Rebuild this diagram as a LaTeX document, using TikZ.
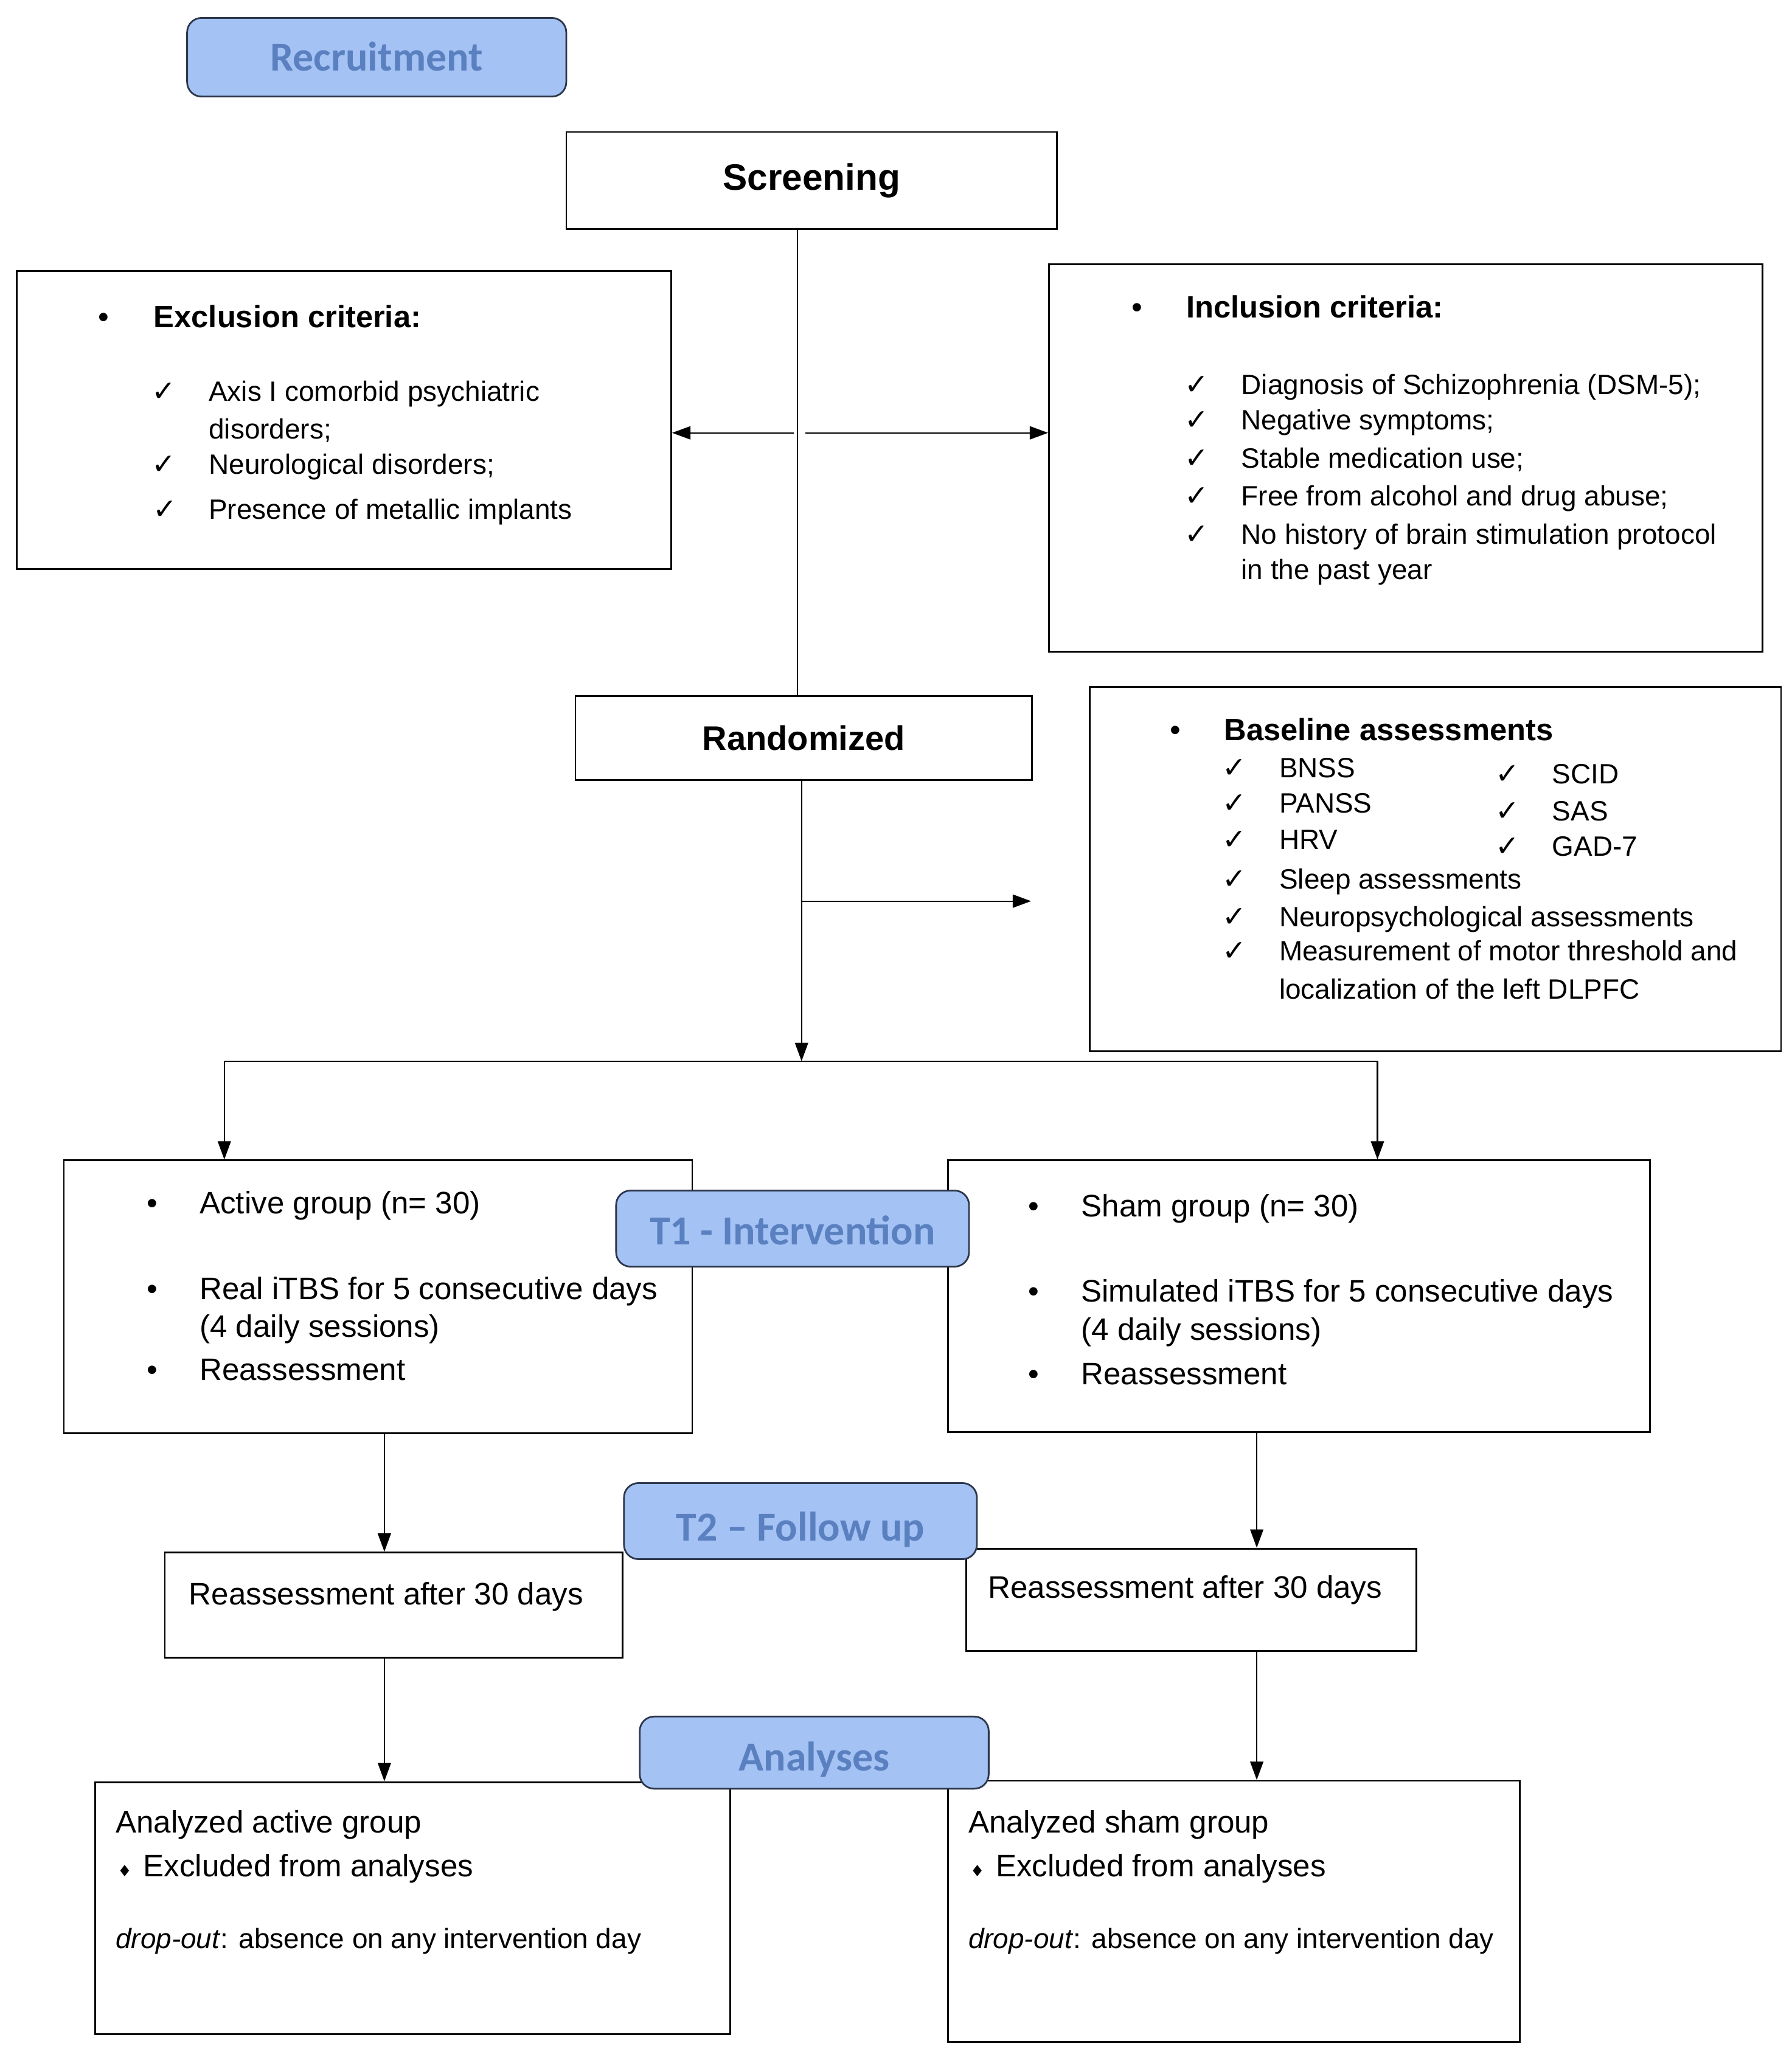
\documentclass[tikz,border=0pt]{standalone}
\usepackage{fontspec}
\setmainfont{Liberation Sans}
\newfontfamily\carlito{Carlito}
\newfontfamily\dvsans{DejaVu Sans}
\usetikzlibrary{arrows.meta}
\definecolor{lblfill}{RGB}{164,194,244}
\definecolor{lbltext}{RGB}{90,128,192}
\definecolor{lbldraw}{RGB}{45,55,75}
\tikzset{
  box/.style={draw=black, line width=1.3pt, inner sep=0pt, anchor=north west, fill=white},
  lbl/.style={draw=lbldraw, fill=lblfill, rounded corners=11pt, line width=1.3pt, inner sep=0pt,
     anchor=north west, text=lbltext, text height=20.3pt, text depth=0pt,
     font=\carlito\bfseries\fontsize{31.5}{36}\selectfont},
  bodytxt/.style={inner sep=0pt, anchor=base west, font=\fontsize{23.7}{28}\selectfont},
  smalltxt/.style={inner sep=0pt, anchor=base west, font=\fontsize{21.3}{25}\selectfont},
  headtxt/.style={inner sep=0pt, anchor=base west, font=\bfseries\fontsize{23.5}{28}\selectfont},
  bul/.style={inner sep=0pt, anchor=base, font=\fontsize{23.5}{28}\selectfont},
  chk/.style={inner sep=0pt, anchor=base, font=\dvsans\fontsize{22}{24}\selectfont},
  dia/.style={inner sep=0pt, anchor=base, font=\dvsans\fontsize{12}{14}\selectfont},
  conn/.style={line width=1pt},
  arr/.style={line width=1pt, -{Triangle[length=14pt,width=10pt]}},
}
\begin{document}
\begin{tikzpicture}[x=1pt,y=-1pt]
\useasboundingbox[fill=white] (0,0) rectangle (1366,1570.5);

% ---------- boxes ----------
\node[box, minimum width=374pt, minimum height=74pt, font=\bfseries\fontsize{28}{32}\selectfont] (scr) at (431,100) {Screening};
\node[box, minimum width=499pt, minimum height=227pt] (excl) at (12,206) {};
\node[box, minimum width=544pt, minimum height=295pt] (incl) at (799,201) {};
\node[box, minimum width=348pt, minimum height=64pt, font=\bfseries\fontsize{26}{30}\selectfont] (rand) at (438,530) {Randomized};
\node[box, minimum width=527pt, minimum height=278pt] (base) at (830,523) {};
\node[box, minimum width=479pt, minimum height=208pt] (act) at (48,884) {};
\node[box, minimum width=535pt, minimum height=207pt] (sham) at (722,884) {};
\node[box, minimum width=349pt, minimum height=80pt] (ral) at (125,1183) {};
\node[box, minimum width=343pt, minimum height=78pt] (rar) at (736,1180) {};
\node[box, minimum width=484pt, minimum height=192pt] (ana) at (72,1358) {};
\node[box, minimum width=436pt, minimum height=199pt] (ans) at (722,1357) {};

% ---------- exclusion ----------
\node[bul] (exb) at (79,249.5) {•};
\node[headtxt] (exh) at (117,249.5) {Exclusion criteria:};
\node[chk] (exc1) at (125,305.6) {✓};
\node[smalltxt] (ext1) at (159,305.6) {Axis I comorbid psychiatric};
\node[smalltxt] (ext1b) at (159,334.6) {disorders;};
\node[chk] (exc2) at (125,361.6) {✓};
\node[smalltxt] (ext2) at (159,361.6) {Neurological disorders;};
\node[chk] (exc3) at (126,395.6) {✓};
\node[smalltxt] (ext3) at (159,395.6) {Presence of metallic implants};

% ---------- inclusion ----------
\node[bul] (inb) at (867,242.5) {•};
\node[headtxt] (inh) at (904,242.5) {Inclusion criteria:};
\node[chk] (inc1) at (912,300.6) {✓};
\node[smalltxt] (int1) at (946,300.6) {Diagnosis of Schizophrenia (DSM-5);};
\node[chk] (inc2) at (912,327.6) {✓};
\node[smalltxt] (int2) at (946,327.6) {Negative symptoms;};
\node[chk] (inc3) at (912,356.6) {✓};
\node[smalltxt] (int3) at (946,356.6) {Stable medication use;};
\node[chk] (inc4) at (912,385.6) {✓};
\node[smalltxt] (int4) at (946,385.6) {Free from alcohol and drug abuse;};
\node[chk] (inc5) at (912,414.6) {✓};
\node[smalltxt] (int5) at (946,414.6) {No history of brain stimulation protocol};
\node[smalltxt] (int5b) at (946,441.6) {in the past year};

% ---------- baseline ----------
\node[bul] (bab) at (896,564.5) {•};
\node[headtxt] (bah) at (933,564.5) {Baseline assessments};
\node[chk] (bac1) at (941,592.6) {✓};
\node[smalltxt] (bat1) at (975,592.6) {BNSS};
\node[chk] (bac2) at (941,619.6) {✓};
\node[smalltxt] (bat2) at (975,619.6) {PANSS};
\node[chk] (bac3) at (941,647.6) {✓};
\node[smalltxt] (bat3) at (975,647.6) {HRV};
\node[chk] (bac4) at (941,677.6) {✓};
\node[smalltxt] (bat4) at (975,677.6) {Sleep assessments};
\node[chk] (bac5) at (941,706.6) {✓};
\node[smalltxt] (bat5) at (975,706.6) {Neuropsychological assessments};
\node[chk] (bac6) at (941,732.6) {✓};
\node[smalltxt] (bat6) at (975,732.6) {Measurement of motor threshold and};
\node[smalltxt] (bat6b) at (975,761.6) {localization of the left DLPFC};
\node[chk] (bar1) at (1149,597.6) {✓};
\node[smalltxt] (bau1) at (1183,597.6) {SCID};
\node[chk] (bar2) at (1149,625.6) {✓};
\node[smalltxt] (bau2) at (1183,625.6) {SAS};
\node[chk] (bar3) at (1149,652.6) {✓};
\node[smalltxt] (bau3) at (1183,652.6) {GAD-7};

% ---------- active group ----------
\node[bul] (acb1) at (116,925.5) {•};
\node[bodytxt] (act1) at (152,925.5) {Active group (n= 30)};
\node[bul] (acb2) at (116,990.5) {•};
\node[bodytxt] (act2) at (152,990.5) {Real iTBS for 5 consecutive days};
\node[bodytxt] (act2b) at (152,1019.5) {(4 daily sessions)};
\node[bul] (acb3) at (116,1052.5) {•};
\node[bodytxt] (act3) at (152,1052.5) {Reassessment};

% ---------- sham group ----------
\node[bul] (shb1) at (788,927.5) {•};
\node[bodytxt] (sht1) at (824,927.5) {Sham group (n= 30)};
\node[bul] (shb2) at (788,992.5) {•};
\node[bodytxt] (sht2) at (824,992.5) {Simulated iTBS for 5 consecutive days};
\node[bodytxt] (sht2b) at (824,1021.5) {(4 daily sessions)};
\node[bul] (shb3) at (788,1055.5) {•};
\node[bodytxt] (sht3) at (824,1055.5) {Reassessment};

% ---------- reassessment ----------
\node[bodytxt] (ralt) at (144,1223.5) {Reassessment after 30 days};
\node[bodytxt] (rart) at (753,1218.5) {Reassessment after 30 days};

% ---------- analyses ----------
\node[bodytxt] (anat1) at (88,1397.5) {Analyzed active group};
\node[dia] (anad) at (95,1430.5) {♦};
\node[bodytxt] (anat2) at (109,1430.5) {Excluded from analyses};
\node[smalltxt] (anat3) at (88,1485.5) {\textit{drop-out}: absence on any intervention day};
\node[bodytxt] (anst1) at (738,1397.5) {Analyzed sham group};
\node[dia] (ansd) at (745,1430.5) {♦};
\node[bodytxt] (anst2) at (759,1430.5) {Excluded from analyses};
\node[smalltxt] (anst3) at (738,1485.5) {\textit{drop-out}: absence on any intervention day};

% ---------- connectors ----------
\coordinate (sp) at (608,330);
\coordinate (spl) at (605,330);
\coordinate (spr) at (614,330);
\draw[conn] (sp |- scr.south) -- (sp |- rand.north);
\draw[arr] (spl) -- (excl.east |- sp);
\draw[arr] (spr) -- (incl.west |- sp);

\coordinate (rp) at (611,687);
\coordinate (bt) at (786,687);
\coordinate (sl) at (171,809);
\coordinate (sr) at (1050,809);
\draw[arr] (rp |- rand.south) -- (rp |- sl);
\draw[arr] (rp) -- (bt);
\draw[conn] (sl) -- (sr);
\draw[arr] (sl) -- (sl |- act.north);
\draw[arr] (sr) -- (sr |- sham.north);

\coordinate (cl) at (293,1100);
\coordinate (cr) at (958,1100);
\draw[arr] (cl |- act.south) -- (cl |- ral.north);
\draw[arr] (cr |- sham.south) -- (cr |- rar.north);
\draw[arr] (cl |- ral.south) -- (cl |- ana.north);
\draw[arr] (cr |- rar.south) -- (cr |- ans.north);

% ---------- blue labels ----------
\node[lbl, minimum width=289pt, minimum height=60pt] (rec) at (142,13) {Recruitment};
\node[lbl, minimum width=269pt, minimum height=58pt] (t1) at (469,907) {\raisebox{-2pt}{T1 - Intervention}};
\node[lbl, minimum width=269pt, minimum height=58pt] (t2) at (475,1130) {\raisebox{-5pt}{T2 – Follow up}};
\node[lbl, minimum width=266pt, minimum height=55pt] (anl) at (487,1308) {\raisebox{-3.5pt}{Analyses}};
\end{tikzpicture}
\end{document}
